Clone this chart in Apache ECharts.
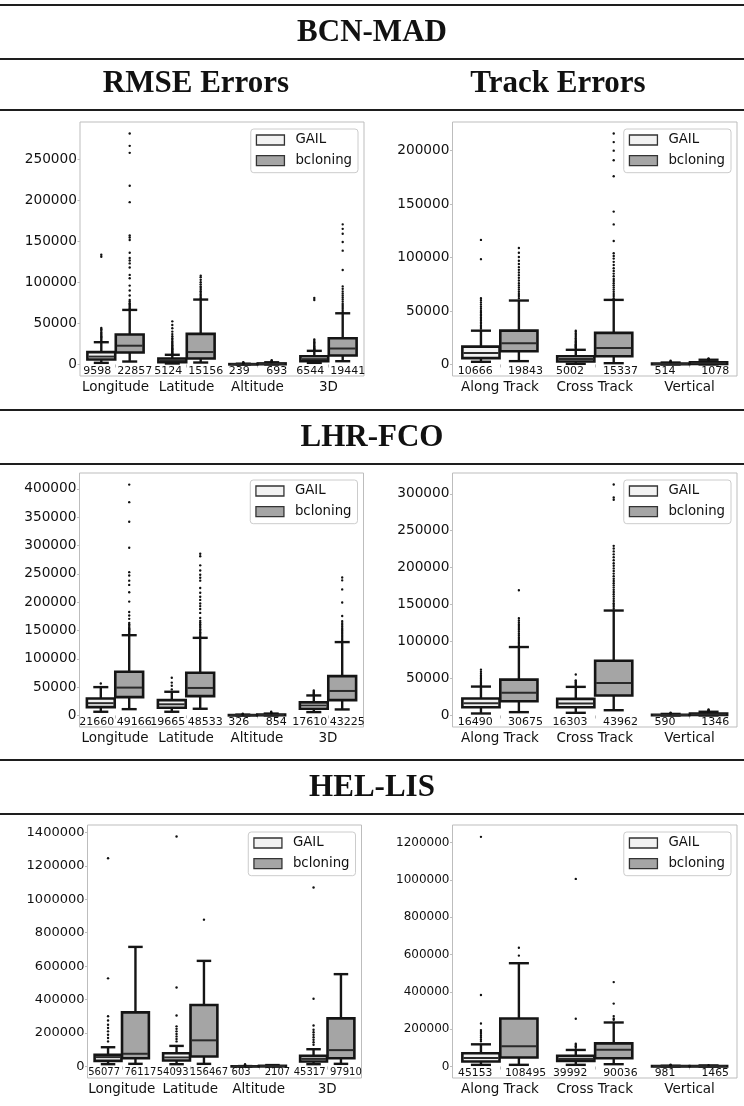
<!DOCTYPE html>
<html>
<head>
<meta charset="utf-8">
<script src="https://cdn.jsdelivr.net/npm/echarts@6/dist/echarts.min.js"></script>
<style>
  html, body { margin: 0; padding: 0; background: #fff; }
  #chart { width: 744px; height: 1106px; }
</style>
</head>
<body>
<div id="chart"></div>
<script>
// ---- categories ----
const hues = ['GAIL', 'bcloning'];
const rmseCategories = ['Longitude', 'Latitude', 'Altitude', '3D'];
const trackCategories = ['Along Track', 'Cross Track', 'Vertical'];

// ---- tick labels ----
const bcnRmseTicks = [0, 50000, 100000, 150000, 200000, 250000];
const bcnTrackTicks = [0, 50000, 100000, 150000, 200000];
const lhrRmseTicks = [0, 50000, 100000, 150000, 200000, 250000, 300000, 350000, 400000];
const lhrTrackTicks = [0, 50000, 100000, 150000, 200000, 250000, 300000];
const helRmseTicks = [0, 200000, 400000, 600000, 800000, 1000000, 1200000, 1400000];
const helTrackTicks = [0, 200000, 400000, 600000, 800000, 1000000, 1200000];

// ---- box summaries: [low whisker, q1, median, q3, high whisker] per category ----
// BCN-MAD, RMSE
const bcnRmseGail = [[2000, 6100, 9598, 15000, 27100], [1200, 2800, 5124, 7300, 11800], [0, 100, 239, 450, 900], [2000, 4000, 6544, 10100, 16600]];
const bcnRmseBcl = [[3600, 14600, 22857, 36400, 66400], [2400, 7300, 15156, 37300, 79000], [20, 350, 693, 1300, 2700], [4000, 10900, 19441, 32000, 62300]];
const bcnRmseGailOut = [
  [28500, 30000, 31500, 33000, 34500, 36000, 37500, 39000, 41000, 43000, 44500, 131000, 133500],
  [12500, 13500, 14500, 15500, 16500, 17500, 18500, 19500, 20500, 22000, 23500, 25000, 26500, 28000, 30000, 32000, 34500, 37000, 40000, 44000, 48000, 52500],
  [1100, 1400, 1800, 2300, 2900],
  [17500, 18500, 19500, 20500, 21500, 22500, 24000, 25500, 27000, 28500, 30500, 78500, 81000]
];
const bcnRmseBclOut = [
  [68500, 70000, 71500, 73000, 74500, 76500, 78500, 84000, 90000, 96000, 105000, 109000, 118000, 123000, 126500, 129500, 136000, 151500, 154500, 157000, 197500, 217500, 257500, 266000, 281000],
  [80500, 82000, 83500, 85000, 87000, 89000, 91000, 93000, 95000, 97500, 100000, 103000, 106000, 108000],
  [3000, 3400, 3900, 4500, 5200],
  [64000, 66000, 68000, 70000, 72000, 74000, 76500, 79000, 81500, 84000, 86500, 89000, 92000, 95000, 115000, 138500, 149000, 159000, 165000, 170500]
];

// BCN-MAD, track
const bcnTrackGail = [[2500, 5900, 10666, 16700, 31600], [600, 2800, 5002, 7700, 13700], [0, 200, 514, 900, 1800]];
const bcnTrackBcl = [[3100, 12400, 19843, 31600, 59800], [1200, 7700, 15337, 29500, 60400], [30, 400, 1078, 2000, 4400]];
const bcnTrackGailOut = [
  [33500, 35000, 36500, 38000, 39500, 41000, 42500, 44000, 45500, 47000, 48500, 50000, 52000, 54000, 56000, 58000, 60000, 62000, 98500, 116500],
  [15000, 16000, 17000, 18000, 19000, 20000, 21000, 22000, 23000, 24500, 26000, 27500, 29000, 30500, 31500],
  [2000, 2400, 2900, 3400]
];
const bcnTrackBclOut = [
  [62000, 64000, 66000, 68000, 70000, 72000, 74000, 76000, 78500, 81000, 83500, 86000, 88500, 91000, 94000, 97000, 100500, 104500, 109000],
  [62000, 64000, 66000, 68000, 70000, 72000, 74000, 76000, 78000, 80000, 82500, 85000, 87500, 90000, 93000, 96000, 99000, 101500, 104000, 115500, 131000, 143000, 176000, 191000, 200000, 208000, 216000],
  [4800, 5200, 5700]
];

// LHR-FCO, RMSE
const lhrRmseGail = [[6500, 14700, 21660, 30000, 50000], [6500, 13600, 19665, 27000, 41800], [0, 120, 326, 650, 1400], [5900, 11800, 17610, 23000, 35300]];
const lhrRmseBcl = [[11100, 32300, 49166, 77100, 141700], [11800, 34100, 48533, 75300, 137000], [20, 400, 854, 1600, 3300], [10600, 27000, 43225, 69400, 129500]];
const lhrRmseGailOut = [
  [56500],
  [46000, 52500, 58000, 66500],
  [1700, 2200, 3000],
  [37000, 38500, 40000, 42000, 44000]
];
const lhrRmseBclOut = [
  [144000, 146000, 148000, 150000, 152000, 154000, 156000, 158500, 161000, 163500, 170500, 176500, 182500, 201000, 217500, 230500, 238000, 247000, 253000, 296000, 342000, 376500, 407500],
  [139500, 142000, 144500, 147000, 149500, 152000, 155000, 158000, 161000, 164000, 167000, 172000, 181000, 188000, 193000, 197500, 204000, 209500, 216500, 225000, 238000, 243000, 248500, 256000, 265000, 281000, 285500],
  [3800, 4600, 5500, 6500],
  [131500, 134000, 136500, 139000, 141500, 144000, 146500, 149000, 151500, 154000, 157000, 160000, 163000, 166500, 175500, 199500, 222500, 238500, 243500]
];

// LHR-FCO, track
const lhrTrackGail = [[2700, 11200, 16490, 22900, 39100], [3600, 11200, 16303, 22500, 38700], [0, 220, 590, 1000, 2100]];
const lhrTrackBcl = [[4500, 19300, 30675, 48500, 92600], [7100, 27000, 43962, 74100, 142000], [40, 600, 1346, 2600, 5000]];
const lhrTrackGailOut = [
  [40500, 42000, 43500, 45000, 46500, 48000, 50000, 52000, 54000, 56500, 59000, 62000],
  [40000, 41500, 43000, 44500, 46000, 47500, 55500],
  [2500, 3000, 3600]
];
const lhrTrackBclOut = [
  [95000, 97000, 99000, 101000, 103500, 106000, 108500, 111000, 113500, 116000, 118500, 121000, 123500, 126000, 128500, 131500, 169500],
  [144500, 147000, 149500, 152000, 155000, 158000, 161000, 164000, 167000, 170000, 173000, 176000, 179000, 182000, 185000, 188500, 192000, 195500, 199000, 202500, 206000, 210000, 214000, 218000, 222000, 226000, 229500, 292000, 295000, 312500],
  [5500, 6300, 7200, 8000]
];

// HEL-LIS, RMSE
const helRmseGail = [[13900, 33800, 56077, 69500, 115200], [13900, 35700, 54093, 79400, 123100], [0, 200, 603, 1200, 2600], [13900, 29800, 45317, 63600, 103300]];
const helRmseBcl = [[15900, 49700, 76117, 323700, 715000], [15900, 59600, 156467, 367400, 631500], [50, 900, 2107, 4000, 8500], [15900, 49700, 97910, 288000, 552100]];
const helRmseGailOut = [
  [150000, 170000, 190000, 210000, 230000, 250000, 275000, 300000, 527000, 1245000],
  [150000, 165000, 180000, 195000, 210000, 225000, 240000, 305000, 472000, 1375000],
  [4000, 7000, 14000],
  [130000, 145000, 160000, 175000, 190000, 205000, 220000, 245000, 405000, 1070000]
];
const helRmseBclOut = [[], [878000], [], []];

// HEL-LIS, track
const helTrackGail = [[8900, 26600, 45153, 70900, 118800], [8900, 30100, 39992, 56700, 88700], [0, 400, 981, 1800, 3800]];
const helTrackBcl = [[8900, 47900, 108495, 257100, 553200], [12400, 44300, 90036, 124100, 235800], [30, 600, 1465, 2600, 5500]];
const helTrackGailOut = [
  [135000, 145000, 155000, 165000, 175000, 185000, 195000, 230000, 383000, 1230000],
  [100000, 108000, 115000, 122000, 256000, 1005000],
  [5000, 7500, 10000]
];
const helTrackBclOut = [[594000, 636000], [250000, 257000, 270000, 337000, 452000], [7000]];

// ---- section headings ----
const routes = ['BCN-MAD', 'LHR-FCO', 'HEL-LIS'];
const columnTitles = ['RMSE Errors', 'Track Errors'];

// ---- panel layout ----
const panels = [
  { cats: rmseCategories, boxes: [bcnRmseGail, bcnRmseBcl], out: [bcnRmseGailOut, bcnRmseBclOut], ticks: bcnRmseTicks,
    range: [-14000, 295000], rect: [80, 122, 284, 254], yFont: 13.7, medFont: 11 },
  { cats: trackCategories, boxes: [bcnTrackGail, bcnTrackBcl], out: [bcnTrackGailOut, bcnTrackBclOut], ticks: bcnTrackTicks,
    range: [-10800, 226800], rect: [452.5, 122, 284.5, 254], yFont: 13.7, medFont: 11 },
  { cats: rmseCategories, boxes: [lhrRmseGail, lhrRmseBcl], out: [lhrRmseGailOut, lhrRmseBclOut], ticks: lhrRmseTicks,
    range: [-20400, 428000], rect: [79.5, 473, 284, 254], yFont: 13.7, medFont: 11 },
  { cats: trackCategories, boxes: [lhrTrackGail, lhrTrackBcl], out: [lhrTrackGailOut, lhrTrackBclOut], ticks: lhrTrackTicks,
    range: [-15600, 328100], rect: [452.5, 473, 284.5, 254], yFont: 13.7, medFont: 11 },
  { cats: rmseCategories, boxes: [helRmseGail, helRmseBcl], out: [helRmseGailOut, helRmseBclOut], ticks: helRmseTicks,
    range: [-68750, 1443750], rect: [87.5, 825, 274, 253], yFont: 13, medFont: 10 },
  { cats: trackCategories, boxes: [helTrackGail, helTrackBcl], out: [helTrackGailOut, helTrackBclOut], ticks: helTrackTicks,
    range: [-61600, 1293600], rect: [452.5, 825, 284.5, 253], yFont: 12, medFont: 10.8 }
];

const W = 744;
const FONT = 'DejaVu Sans';
const SERIF = 'Liberation Serif';
const LINE = '#151515';
const FILLS = ['#f2f2f2', '#a5a5a5'];
const FRAME = '#bdbdbd';

function boxRenderer(hue, fontSize) {
  return function (params, api) {
    const cat = api.value(0);
    const band = api.size([1, 0])[0];
    const side = hue === 0 ? -1 : 1;
    const w = band * 0.392;
    const base = api.coord([cat, 0]);
    const cx = base[0] + side * 0.2 * band;
    const y = (i) => api.coord([cat, api.value(i)])[1];
    const yLow = y(1), yQ1 = y(2), yMed = y(3), yQ3 = y(4), yHigh = y(5);
    const capHalf = w * 0.27;
    const ls = { stroke: LINE, lineWidth: 2.4 };
    return {
      type: 'group',
      children: [
        { type: 'line', shape: { x1: cx, y1: yLow, x2: cx, y2: yQ1 }, style: ls },
        { type: 'line', shape: { x1: cx, y1: yQ3, x2: cx, y2: yHigh }, style: ls },
        { type: 'line', shape: { x1: cx - capHalf, y1: yLow, x2: cx + capHalf, y2: yLow }, style: ls },
        { type: 'line', shape: { x1: cx - capHalf, y1: yHigh, x2: cx + capHalf, y2: yHigh }, style: ls },
        { type: 'rect', shape: { x: cx - w / 2, y: yQ3, width: w, height: Math.max(yQ1 - yQ3, 0.01) },
          style: { fill: FILLS[hue], stroke: LINE, lineWidth: 2.6 } },
        { type: 'line', shape: { x1: cx - w / 2 + 1, y1: yMed, x2: cx + w / 2 - 1, y2: yMed },
          style: { stroke: '#2a2a2a', lineWidth: 2 } },
        { type: 'text', z2: 10,
          style: { text: String(api.value(3)), x: base[0] + side * 0.265 * band + 0.5, y: base[1] + 1.2,
                   align: 'center', verticalAlign: 'top', fontSize: fontSize, fontFamily: FONT, fill: '#111' } }
      ]
    };
  };
}

function outlierRenderer(hue) {
  return function (params, api) {
    const cat = api.value(0);
    const band = api.size([1, 0])[0];
    const side = hue === 0 ? -1 : 1;
    const p = api.coord([cat, api.value(1)]);
    return { type: 'circle', shape: { cx: p[0] + side * 0.2 * band, cy: p[1], r: 1.2 }, style: { fill: '#111' } };
  };
}

const grid = [], xAxis = [], yAxis = [], series = [], legend = [];

panels.forEach((p, i) => {
  const [left, top, width, height] = p.rect;
  grid.push({ left, top, width, height, show: true, borderColor: FRAME, borderWidth: 1, backgroundColor: '#fff' });
  xAxis.push({
    type: 'category', gridIndex: i, data: p.cats, boundaryGap: true,
    axisLine: { show: false },
    axisTick: { show: true, alignWithLabel: true, length: 3, lineStyle: { color: FRAME } },
    axisLabel: { interval: 0, margin: 4, fontSize: 13.5, fontFamily: FONT, color: '#111' },
    splitLine: { show: false }
  });
  yAxis.push({
    type: 'value', gridIndex: i, min: p.range[0], max: p.range[1],
    axisLine: { show: false },
    axisTick: { show: true, length: 2.5, customValues: p.ticks, lineStyle: { color: FRAME } },
    axisLabel: { customValues: p.ticks, formatter: (v) => String(v), margin: 3,
                 fontSize: p.yFont, fontFamily: FONT, color: '#111' },
    splitLine: { show: false }
  });
  hues.forEach((name, h) => {
    series.push({
      type: 'custom', name, xAxisIndex: i, yAxisIndex: i, z: 2,
      renderItem: boxRenderer(h, p.medFont),
      encode: { x: 0, y: [1, 2, 3, 4, 5] },
      data: p.boxes[h].map((b, c) => [c].concat(b))
    });
    const pts = [];
    p.out[h].forEach((list, c) => list.forEach(v => pts.push([c, v])));
    series.push({
      type: 'custom', name, xAxisIndex: i, yAxisIndex: i, z: 3,
      renderItem: outlierRenderer(h),
      encode: { x: 0, y: 1 },
      data: pts
    });
  });
  const legendRight = W - (left + width) + 6;
  legend.push({
    orient: 'vertical', right: legendRight, top: top + 7,
    padding: [3, 6, 4, 5], itemWidth: 28, itemHeight: 10, itemGap: 4.7,
    backgroundColor: 'rgba(255,255,255,0.85)', borderColor: '#cccccc', borderWidth: 1, borderRadius: 3,
    selectedMode: false,
    textStyle: { fontSize: 13.3, fontFamily: FONT, color: '#111', lineHeight: 16, padding: [0, 0, 0, 6] },
    data: hues.map((name, h) => ({
      name, icon: 'rect',
      itemStyle: { color: FILLS[h], borderColor: '#333', borderWidth: 1.3 }
    }))
  });
});

// headings and horizontal rules
const rowTops = [5, 410, 760];
const graphic = [];
const headFont = 'bold 31px "' + SERIF + '"';
rowTops.forEach((y, r) => {
  graphic.push({ type: 'rect', shape: { x: 0, y: y - 1, width: W, height: 2 }, style: { fill: '#1e1e1e' } });
  graphic.push({ type: 'text', style: { text: routes[r], x: W / 2, y: y + 28, align: 'center', verticalAlign: 'middle',
    font: headFont, fill: '#111' } });
  graphic.push({ type: 'rect', shape: { x: 0, y: y + 53, width: W, height: 2 }, style: { fill: '#1e1e1e' } });
});
graphic.push({ type: 'text', style: { text: columnTitles[0], x: 196, y: 84, align: 'center', verticalAlign: 'middle',
  font: headFont, fill: '#111' } });
graphic.push({ type: 'text', style: { text: columnTitles[1], x: 558, y: 84, align: 'center', verticalAlign: 'middle',
  font: headFont, fill: '#111' } });
graphic.push({ type: 'rect', shape: { x: 0, y: 109, width: W, height: 2 }, style: { fill: '#1e1e1e' } });

const chart = echarts.init(document.getElementById('chart'), null, { renderer: 'canvas' });
chart.setOption({
  backgroundColor: '#fff',
  animation: false,
  grid, xAxis, yAxis, series, legend, graphic
});
</script>
</body>
</html>
